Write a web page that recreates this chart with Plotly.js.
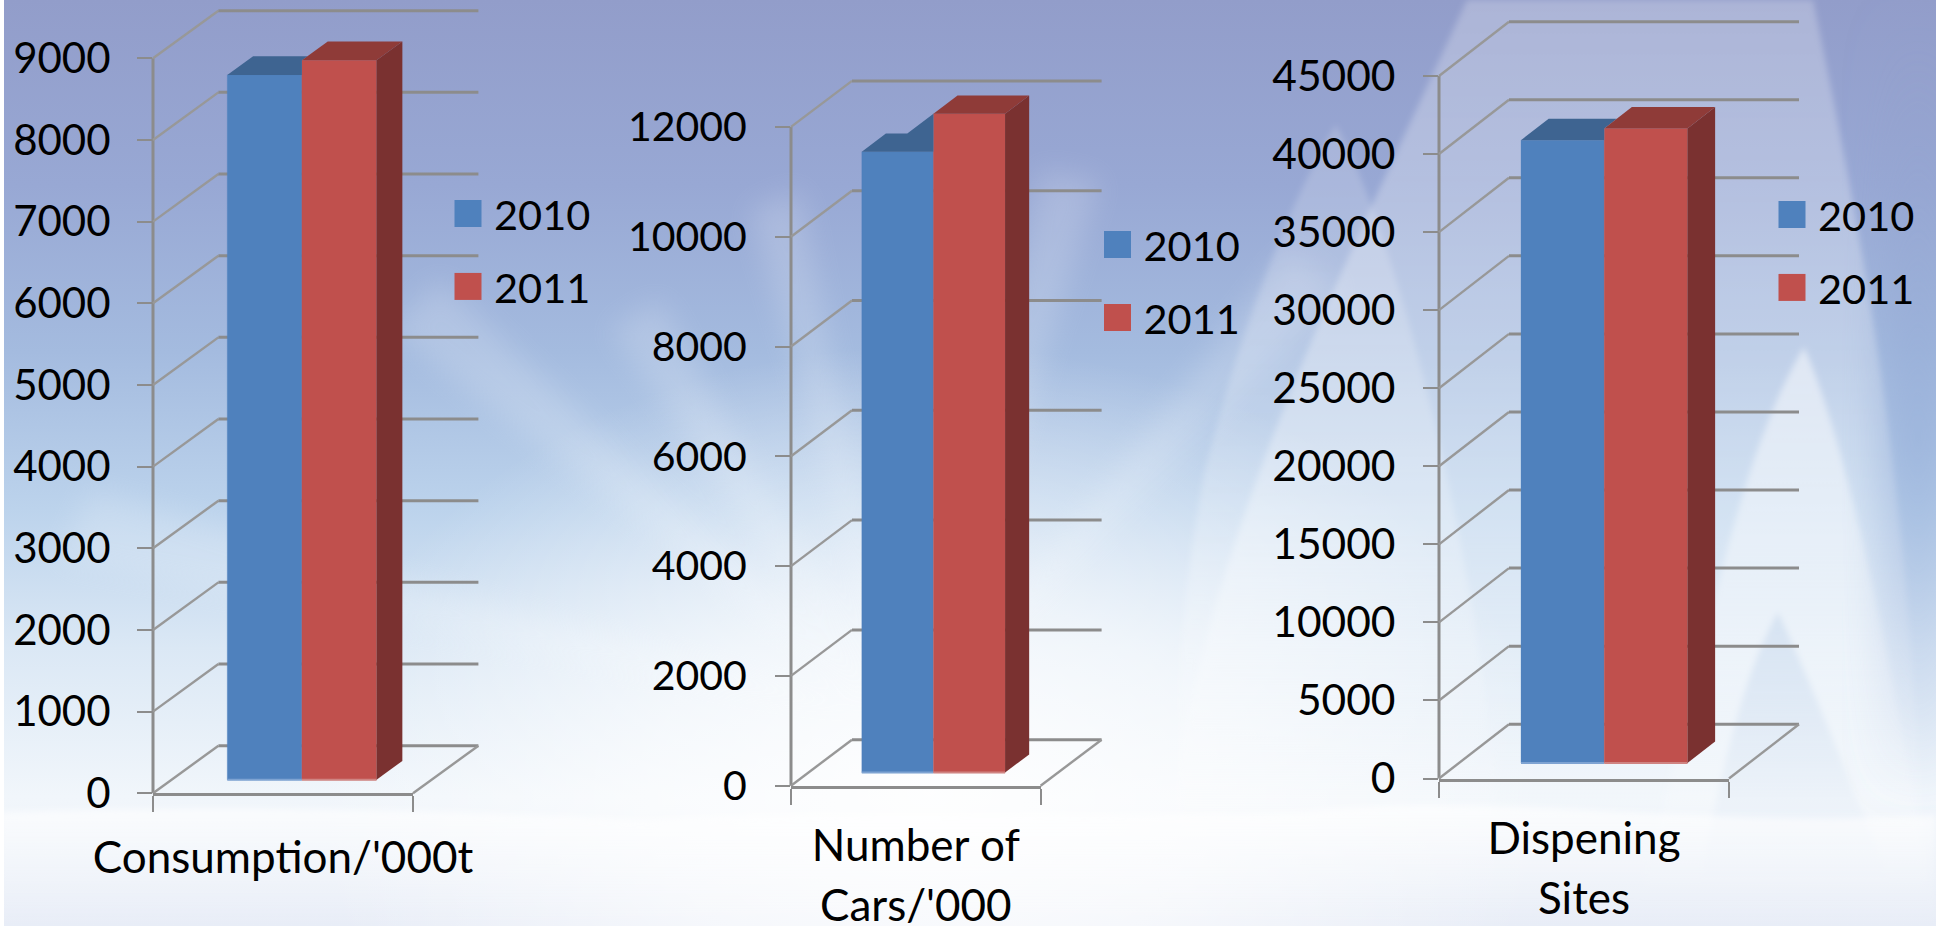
<!DOCTYPE html>
<html><head><meta charset="utf-8">
<script src="https://cdn.plot.ly/plotly-3.0.1.min.js"></script>
<style>
html,body{margin:0;padding:0;width:1936px;height:926px;overflow:hidden;background:#fff}
#bg{position:absolute;left:4px;top:0;width:1932px;height:926px;z-index:0}
#chart{position:absolute;left:0;top:0;width:1936px;height:926px;z-index:1}
#chart .legendpoints path{stroke-width:15px !important}
</style></head><body>
<svg id="bg" viewBox="4 0 1932 926" preserveAspectRatio="none" xmlns="http://www.w3.org/2000/svg">
<defs>
<linearGradient id="sky" x1="0" y1="0" x2="0" y2="1">
<stop offset="0" stop-color="#929dca"/><stop offset=".2" stop-color="#98a8d4"/><stop offset=".38" stop-color="#a4bbdf"/>
<stop offset=".55" stop-color="#bcd3ec"/><stop offset=".7" stop-color="#dbe8f5"/><stop offset=".86" stop-color="#f1f6fb"/><stop offset="1" stop-color="#e8edf7"/>
</linearGradient>
<radialGradient id="glow" cx="930" cy="780" r="620" gradientUnits="userSpaceOnUse" gradientTransform="translate(0 230) scale(1 .72)">
<stop offset="0" stop-color="#fff" stop-opacity=".9"/><stop offset=".45" stop-color="#fff" stop-opacity=".6"/><stop offset="1" stop-color="#fff" stop-opacity="0"/>
</radialGradient>
<linearGradient id="cone" x1="0" y1="0" x2="0" y2="1">
<stop offset="0" stop-color="#fff" stop-opacity=".24"/><stop offset=".6" stop-color="#fff" stop-opacity=".34"/><stop offset="1" stop-color="#fff" stop-opacity="0"/>
</linearGradient>
<linearGradient id="cone2" x1="0" y1="0" x2="0" y2="1">
<stop offset="0" stop-color="#fff" stop-opacity=".5"/><stop offset=".6" stop-color="#fff" stop-opacity=".32"/><stop offset="1" stop-color="#fff" stop-opacity="0"/>
</linearGradient>
<linearGradient id="cone3" x1="0" y1="0" x2="0" y2="1">
<stop offset="0" stop-color="#a9c3e3" stop-opacity=".32"/><stop offset="1" stop-color="#a9c3e3" stop-opacity="0"/>
</linearGradient>
<linearGradient id="right" x1="0" y1="0" x2="0" y2="1">
<stop offset="0" stop-color="#8f9ac6" stop-opacity="0"/><stop offset=".55" stop-color="#8fa8d6" stop-opacity=".55"/><stop offset="1" stop-color="#8fa8d6" stop-opacity="0"/>
</linearGradient>
<linearGradient id="cloud" x1="0" y1="0" x2="0" y2="1">
<stop offset="0" stop-color="#fff" stop-opacity=".7"/><stop offset=".45" stop-color="#fff" stop-opacity=".35"/><stop offset="1" stop-color="#fff" stop-opacity="0"/>
</linearGradient>
<filter id="b3"><feGaussianBlur stdDeviation="3"/></filter>
<filter id="b10"><feGaussianBlur stdDeviation="14"/></filter>
<filter id="b20" x="-50%" width="200%"><feGaussianBlur stdDeviation="20"/></filter>
</defs>
<rect x="0" y="0" width="1936" height="926" fill="url(#sky)"/>
<rect x="0" y="0" width="1936" height="926" fill="url(#glow)"/>
<g fill="#fff" filter="url(#b10)" opacity=".17">
<path d="M900 720 L750 210 L800 190 Z"/><path d="M900 720 L390 330 L440 280 Z"/><path d="M900 720 L60 560 L90 490 Z"/>
<path d="M920 720 L1290 250 L1340 290 Z"/><path d="M880 700 L660 300 L610 330 Z"/><path d="M930 720 L1100 180 L1040 170 Z"/>
</g>
<g filter="url(#b3)">
<path d="M1467 0 L1813 0 C1850 180 1900 420 1915 720 L1930 900 L1160 900 C1190 560 1330 300 1467 0 Z" fill="url(#cone)"/>
<path d="M1336 125 C1290 200 1240 330 1205 470 C1180 600 1170 740 1185 860 L1500 860 C1490 600 1400 240 1336 125 Z" fill="url(#cone)" opacity=".7"/>
<path d="M1804 347 C1760 420 1730 530 1700 660 L1640 900 L1930 900 C1900 700 1850 450 1804 347 Z" fill="url(#cone2)"/>
<path d="M1778 612 C1740 680 1720 780 1700 880 L1890 880 C1850 780 1810 680 1778 612 Z" fill="url(#cone3)"/>
</g>
<rect x="1880" y="0" width="76" height="800" fill="url(#right)" filter="url(#b20)"/>
<path d="M0 812 C200 806 420 808 640 820 C900 806 1100 820 1300 812 C1500 790 1700 830 1936 815 L1936 926 L0 926 Z" fill="url(#cloud)" filter="url(#b3)"/>
</svg>
<div id="chart"></div>
<script>
// ---- data ----
const seriesNames = ['2010', '2011'];
const consumption = [8630, 8810];
const cars = [11310, 12000];
const sites = [39900, 40650];
const consumptionTicks = [0, 1000, 2000, 3000, 4000, 5000, 6000, 7000, 8000, 9000];
const carsTicks = [0, 2000, 4000, 6000, 8000, 10000, 12000];
const sitesTicks = [0, 5000, 10000, 15000, 20000, 25000, 30000, 35000, 40000, 45000];
const consumptionLabel = "Consumption/'000t";
const carsLabel = "Number of<br>Cars/'000";
const sitesLabel = "Dispening<br>Sites";

// ---- styling and layout ----
const fontFamily = 'Lato, "Open Sans", sans-serif';
const front = ['#4f81bd', '#c0504d'];
const topFace = ['#3e6491', '#8f3b38'];
const sideFace = '#7a3130';
const gridColor = '#8c8c8c';
const barStart = 0.214, barWidth = 0.287, depthFront = 0.285, depthThick = 0.395;
const W = 1936, H = 926;

const panels = [
 {vals: consumption, ticks: consumptionTicks, label: consumptionLabel, x0: 153, x1: 413, y0: 793.3, yTop: 58.3, dx: 65.4, dy: 47.6,
  legendX: 442, legendY: 180, stand: 24, tickSize: 42, tickStand: 18},
 {vals: cars, ticks: carsTicks, label: carsLabel, x0: 791, x1: 1040.6, y0: 785.7, yTop: 126.9, dx: 61, dy: 46,
  legendX: 1091.5, legendY: 211, stand: 17, tickSize: 41, tickStand: 20},
 {vals: sites, ticks: sitesTicks, label: sitesLabel, x0: 1439, x1: 1729, y0: 778.5, yTop: 76, dx: 70, dy: 54.3,
  legendX: 1766, legendY: 181, stand: 17, tickSize: 42.5, tickStand: 19}
];

const traces = [], shapes = [];
const layout = {
  width: W, height: H, margin: {l: 0, r: 0, t: 0, b: 0}, autosize: false,
  paper_bgcolor: 'rgba(0,0,0,0)', plot_bgcolor: 'rgba(0,0,0,0)',
  barmode: 'overlay', showlegend: true, font: {family: fontFamily, color: '#000', size: 40}
};

panels.forEach((p, i) => {
  const n = i === 0 ? '' : String(i + 1);
  const xa = 'x' + n, ya = 'y' + n;
  const yMax = p.ticks[p.ticks.length - 1];
  const pxPerUnit = (p.y0 - p.yTop) / yMax;
  const backX = p.dx / (p.x1 - p.x0);
  const backY = p.dy / pxPerUnit;
  const base = depthFront * backY, ddx = depthThick * backX, ddy = depthThick * backY;
  // the value range reaches the tallest bar top (bars are cut at the range end)
  const rangeTop = Math.max(yMax, base + Math.max(...p.vals) + yMax * 0.002);
  const domainTopPx = p.y0 - rangeTop * pxPerUnit;
  const multi = p.label.includes('<br>');

  layout['xaxis' + n] = {
    domain: [p.x0 / W, p.x1 / W], range: [0, 1], anchor: ya, fixedrange: true,
    showgrid: false, zeroline: false, showline: true, linecolor: gridColor, linewidth: 3,
    tickmode: 'array', tickvals: [0.5],
    ticktext: [multi ? p.label.split('<br>').map(s => '<span style="font-size:44px">' + s + '</span>').join('<br>') : p.label],
    ticks: '', ticklabelstandoff: p.stand, tickfont: {family: fontFamily, size: multi ? 46 : 44, color: '#000'},
    minor: {tickmode: 'array', tickvals: [0, 1], ticks: 'outside', ticklen: 16, tickwidth: 2, tickcolor: gridColor, showgrid: false}
  };
  layout['yaxis' + n] = {
    domain: [1 - p.y0 / H, 1 - domainTopPx / H], range: [0, rangeTop], anchor: xa, fixedrange: true,
    showgrid: false, zeroline: false, showline: false,
    tickmode: 'array', tickvals: p.ticks, ticktext: p.ticks.map(String),
    ticks: 'outside', ticklen: 15, tickwidth: 2, tickcolor: gridColor,
    ticklabelstandoff: p.tickStand, tickfont: {family: fontFamily, size: p.tickSize, color: '#000'}
  };

  // wall and floor lines, behind the bars
  const dref = {xref: xa + ' domain', yref: ya + ' domain'};
  const line = o => shapes.push(Object.assign({type: 'line', layer: 'below'}, dref, o));
  line({x0: 0, y0: 0, x1: 0, y1: yMax / rangeTop, line: {color: gridColor, width: 3}});
  p.ticks.forEach(t => {
    const f = t / rangeTop, b = (t + backY) / rangeTop;
    line({x0: 0, y0: f, x1: backX, y1: b, line: {color: '#989898', width: 2.4}});
    line({x0: backX, y0: b, x1: 1 + backX, y1: b, line: {color: gridColor, width: 3}});
  });
  line({x0: 1, y0: 0, x1: 1 + backX, y1: backY / rangeTop, line: {color: '#989898', width: 2.4}});

  // 3-D bars: front faces are bars, top and side faces follow the same values
  const left = barStart + depthFront * backX;
  const edges = [left, left + barWidth, left + 2 * barWidth];
  p.vals.forEach((v, k) => {
    traces.push({
      type: 'bar', name: seriesNames[k], x: [edges[k] + barWidth / 2], y: [v], base: [base], width: [barWidth],
      xaxis: xa, yaxis: ya, cliponaxis: false, marker: {color: front[k], line: {color: front[k], width: 0.3}},
      legend: i === 0 ? 'legend' : 'legend' + (i + 1), legendgroup: 'g' + i + '-' + k, hoverinfo: 'skip'
    });
  });
  const top0 = base + p.vals[0], top1 = base + p.vals[1];
  const cut = edges[1] + ((top0 + ddy - top1) / ddy) * ddx;
  const face = (xs, ys, c) => shapes.push(Object.assign({type: 'path', layer: 'above', fillcolor: c, line: {width: 0}}, dref, {
    path: xs.map((x, j) => (j ? 'L' : 'M') + x + ' ' + (ys[j] / rangeTop)).join(' ') + ' Z'}));
  face([edges[0], edges[0] + ddx, cut, edges[1], edges[1]],
       [top0, top0 + ddy, top0 + ddy, top1, top0], topFace[0]);
  face([edges[1], edges[1] + ddx, edges[2] + ddx, edges[2]],
       [top1, top1 + ddy, top1 + ddy, top1], topFace[1]);
  face([edges[2], edges[2] + ddx, edges[2] + ddx, edges[2]],
       [base, base + ddy, top1 + ddy, top1], sideFace);
  // light lower rim of the front faces
  [['#7ea3d2', 0], ['#cf8482', 1]].forEach(([c, k]) => traces.push({type: 'scatter', mode: 'lines',
    x: [edges[k], edges[k + 1]], y: [base, base], line: {color: c, width: 2}, xaxis: xa, yaxis: ya,
    cliponaxis: false, showlegend: false, hoverinfo: 'skip'}));

  layout[i === 0 ? 'legend' : 'legend' + (i + 1)] = {
    x: p.legendX / W, y: 1 - p.legendY / H, xanchor: 'left', yanchor: 'top', bgcolor: 'rgba(0,0,0,0)',
    borderwidth: 0, itemwidth: 42, tracegroupgap: 16, traceorder: 'grouped',
    font: {family: fontFamily, size: 41.5, color: '#000'}, itemclick: false, itemdoubleclick: false
  };
});
layout.shapes = shapes;
Plotly.newPlot('chart', traces, layout, {displayModeBar: false, responsive: false});
</script>
</body></html>
